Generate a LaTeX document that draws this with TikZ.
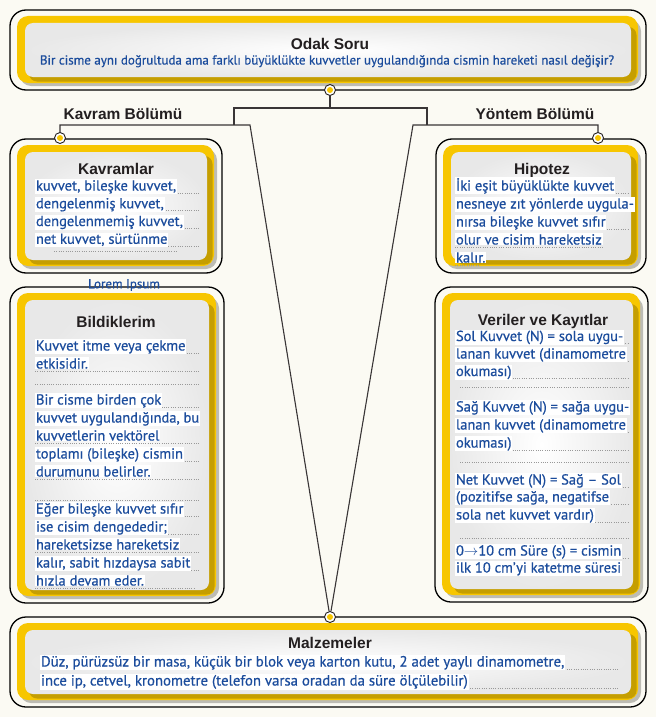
\documentclass[tikz,border=0pt]{standalone}
\usepackage{fontspec}
\setmainfont[FakeBold=0.6]{PT Sans}
\newfontfamily\ttlfont{Liberation Sans}
\usetikzlibrary{fit}
\definecolor{bg}{HTML}{FBFAF3}
\definecolor{ylw}{HTML}{F7C600}
\definecolor{gld}{HTML}{C59E00}
\definecolor{txtblue}{HTML}{1B4C9C}
\definecolor{ink}{HTML}{231F20}
\definecolor{shd}{HTML}{BDBCB4}
\newcounter{tlc}
\tikzset{
 frameout/.style={draw=black, line width=1.3pt, rounded corners=16pt, fill=bg, inner sep=0pt},
 frameylw/.style={fill=ylw, rounded corners=11pt, inner sep=0pt},
 framewht/.style={inner color=white, outer color=gray!18, rounded corners=8pt, inner sep=0pt},
 conn/.style={draw=ink!90, line width=1.1pt},
 marker/.style={circle, draw=ink, line width=0.9pt, fill=white, minimum size=11pt, inner sep=0pt,
   path picture={\fill[ylw] (path picture bounding box.center) circle (3pt);}},
 ttl/.style={font=\ttlfont\bfseries\fontsize{15.5}{18}\selectfont, text=ink, inner sep=0pt, anchor=base},
 qtxt/.style={font=\fontsize{13}{15}\selectfont, text=txtblue, inner sep=0pt, anchor=base},
 txt/.style={font=\fontsize{14.5}{18}\selectfont, text=txtblue, fill=white, inner sep=0.8pt, anchor=base west},
 mtxt/.style={font=\fontsize{14.8}{18}\selectfont, text=txtblue, fill=white, inner sep=0.8pt, anchor=base west},
 lorem/.style={font=\fontsize{13}{14}\selectfont, text=txtblue, inner sep=0pt},
 dotrule/.style={draw=gray!80, line width=0.8pt, dash pattern=on 0.8pt off 1.5pt},
}
\newcommand\txtline[4]{\draw[dotrule] (#1,#3+2.5) -- (#2,#3+2.5);\stepcounter{tlc}\node[txt] (tl-\arabic{tlc}) at (#1,#3) {#4};}
\newcommand\mtxtline[4]{\draw[dotrule] (#1,#3+2.5) -- (#2,#3+2.5);\stepcounter{tlc}\node[mtxt] (tl-\arabic{tlc}) at (#1,#3) {#4};}
\newcommand\xrule[3]{\draw[dotrule] (#1,#3) -- (#2,#3);}
\newcommand\panel[5]{%
 \node[frameout, fit={(#2,#3) (#4,#5)}] (#1) {};
 \fill[shd, rounded corners=11pt] (#2+10,#3+10) rectangle (#4-5,#5-4);
 \node[frameylw, fit={(#2+7,#3+6) (#4-8,#5-7)}] (#1-y) {};
 \fill[gld, rounded corners=8pt] (#2+19,#3+17) rectangle (#4-9.5,#5-8.5);
 \node[framewht, fit={(#2+15,#3+13) (#4-15,#5-13)}] (#1-w) {};
}
\begin{document}
\begin{tikzpicture}[x=1pt,y=-1pt]
\fill[bg] (0,0) rectangle (656,717);
\useasboundingbox (0,0) rectangle (656,717);

% panels
\panel{odak}{10}{10}{646}{90}
\panel{kav}{10}{139}{222}{273}
\panel{hip}{436}{139}{646}{273}
\panel{bil}{10}{287}{224}{603}
\panel{ver}{435}{287}{648}{602}
\panel{mal}{10}{617}{646}{707}

% markers
\node[marker] (mOdak) at (330,90) {};
\node[marker] (mKav) at (60,138) {};
\node[marker] (mHip) at (598,138) {};
\node[marker] (mMal) at (330,617) {};

% junctions
\coordinate (jT) at (330,108);
\coordinate (jTR) at (427,108);
\coordinate (jL) at (234,125);
\coordinate (jR) at (427,125);
\coordinate (jLL) at (60,125);
\coordinate (jLR) at (250,125);
\coordinate (jRL) at (413,125);
\coordinate (jRR) at (598,125);

\draw[conn] (mOdak) -- (jT);
\draw[conn] (jL) |- (jTR) -- (jR);
\draw[conn, line join=miter] (mMal) -- (jLR) -- (jLL) -- (mKav);
\draw[conn, line join=miter] (mMal) -- (jRL) -- (jRR) -- (mHip);

% section labels
\node[ttl] (secK) at (123,119.5) {Kavram Bölümü};
\node[ttl] (secY) at (535,119.5) {Yöntem Bölümü};
\node[lorem] (lorem) at (124,285) {Lorem Ipsum};

% Odak Soru
\node[ttl] (odakT) at (330,49) {Odak Soru};
\node[qtxt] (odakQ) at (327,64.5) {Bir cisme aynı doğrultuda ama farklı büyüklükte kuvvetler uygulandığında cismin hareketi nasıl değişir?};

% Kavramlar
\node[ttl] (kavT) at (116,174.5) {Kavramlar};
\txtline{35}{200}{190.5}{kuvvet, bileşke kuvvet,}
\txtline{35}{200}{208.3}{dengelenmiş kuvvet,}
\txtline{35}{200}{226}{dengelenmemiş kuvvet,}
\txtline{35}{200}{243.8}{net kuvvet, sürtünme}
\xrule{54}{178}{251}

% Hipotez
\node[ttl] (hipT) at (542,174.5) {Hipotez};
\txtline{455}{628}{190.5}{İki eşit büyüklükte kuvvet}
\txtline{455}{628}{208.5}{nesneye zıt yönlerde uygula-}
\txtline{455}{628}{226.5}{nırsa bileşke kuvvet sıfır}
\txtline{455}{603}{244.5}{olur ve cisim hareketsiz}
\txtline{455}{480}{262.5}{kalır.}

% Bildiklerim
\node[ttl] (bilT) at (116,327.5) {Bildiklerim};
\txtline{35}{200}{350.5}{Kuvvet itme veya çekme}
\txtline{35}{200}{368.5}{etkisidir.}
\xrule{35}{200}{384}
\txtline{35}{200}{404.5}{Bir cisme birden çok}
\txtline{35}{200}{422.5}{kuvvet uygulandığında, bu}
\txtline{35}{200}{440.5}{kuvvetlerin vektörel}
\txtline{35}{200}{458.5}{toplamı (bileşke) cismin}
\txtline{35}{200}{476.5}{durumunu belirler.}
\xrule{35}{200}{500}
\txtline{35}{200}{513.5}{Eğer bileşke kuvvet sıfır}
\txtline{35}{200}{531.5}{ise cisim dengededir;}
\txtline{35}{200}{549.5}{hareketsizse hareketsiz}
\txtline{35}{200}{567.5}{kalır, sabit hızdaysa sabit}
\txtline{35}{195}{585.5}{hızla devam eder.}

% Veriler ve Kayitlar
\node[ttl] (verT) at (543,325.5) {Veriler ve Kayıtlar};
\txtline{455}{628}{341}{Sol Kuvvet (N) = sola uygu-}
\txtline{455}{628}{358.5}{lanan kuvvet (dinamometre}
\txtline{455}{628}{376}{okuması)}
\xrule{460}{628}{387}
\txtline{455}{628}{411.5}{Sağ Kuvvet (N) = sağa uygu-}
\txtline{455}{628}{429.5}{lanan kuvvet (dinamometre}
\txtline{455}{628}{447.5}{okuması)}
\xrule{460}{628}{462}
\txtline{455}{628}{484.5}{Net Kuvvet (N) = Sağ – Sol}
\txtline{455}{628}{501.5}{(pozitifse sağa, negatifse}
\txtline{455}{628}{519.5}{sola net kuvvet vardır)}
\xrule{460}{628}{538}
\txtline{455}{628}{555.5}{0$\rightarrow$10 cm Süre (s) = cismin}
\txtline{455}{620}{572.5}{ilk 10 cm’yi katetme süresi}

% Malzemeler
\node[ttl] (malT) at (330,648.5) {Malzemeler};
\mtxtline{40}{618}{666.5}{Düz, pürüzsüz bir masa, küçük bir blok veya karton kutu, 2 adet yaylı dinamometre,}
\mtxtline{40}{618}{685.5}{ince ip, cetvel, kronometre (telefon varsa oradan da süre ölçülebilir)}
\end{tikzpicture}
\end{document}
